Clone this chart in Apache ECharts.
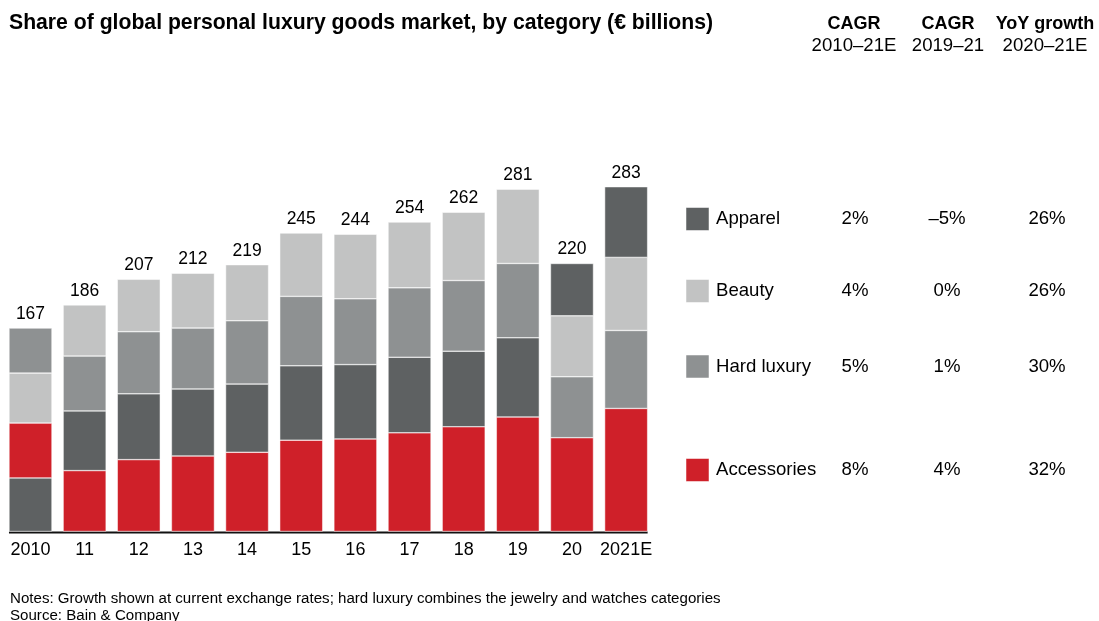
<!DOCTYPE html>
<html>
<head>
<meta charset="utf-8">
<script src="https://cdn.jsdelivr.net/npm/echarts@6/dist/echarts.min.js"></script>
<style>
  html, body { margin: 0; padding: 0; background: #ffffff; }
  #chart { width: 1099px; height: 621px; }
</style>
</head>
<body>
<div id="chart"></div>
<script>
// Personal luxury goods market by category, € billions
const years = ['2010', '11', '12', '13', '14', '15', '16', '17', '18', '19', '20', '2021E'];
const apparel     = [44, 49, 54, 55, 56, 61, 61, 62, 62, 65, 43, 58];
const beauty      = [41, 42, 43, 45, 46, 52, 53, 54, 56, 61, 50, 60];
const hardLuxury  = [37, 45, 51, 50, 52, 57, 54, 57, 58, 61, 50, 64];
const accessories = [45, 50, 59, 62, 65, 75, 76, 81, 86, 94, 77, 101];

// Bottom-to-top order of the segments in each year's bar
const orderEarly = ['Apparel', 'Accessories', 'Beauty', 'Hard luxury'];
const orderMid   = ['Accessories', 'Apparel', 'Hard luxury', 'Beauty'];
const orderLate  = ['Accessories', 'Hard luxury', 'Beauty', 'Apparel'];
const stackOrder = [orderEarly, orderMid, orderMid, orderMid, orderMid, orderMid,
                    orderMid, orderMid, orderMid, orderMid, orderLate, orderLate];

// Growth table (rows: Apparel, Beauty, Hard luxury, Accessories)
const tableRows   = ['Apparel', 'Beauty', 'Hard luxury', 'Accessories'];
const cagr2010_21 = ['2%', '4%', '5%', '8%'];
const cagr2019_21 = ['\u20135%', '0%', '1%', '4%'];
const yoy2020_21  = ['26%', '26%', '30%', '32%'];

const values = {
  'Apparel': apparel,
  'Beauty': beauty,
  'Hard luxury': hardLuxury,
  'Accessories': accessories
};
const colors = {
  'Apparel': '#5e6162',
  'Beauty': '#c2c3c3',
  'Hard luxury': '#8e9192',
  'Accessories': '#cf2029'
};

const FONT = '"Liberation Sans", Arial, Helvetica, sans-serif';
const BAR_WIDTH = 43;

function yearTotal(i) {
  return apparel[i] + beauty[i] + hardLuxury[i] + accessories[i];
}

// One stacked series per layer; each data item carries its own category colour
const layers = [0, 1, 2, 3].map(function (layer) {
  return {
    type: 'bar',
    stack: 'market',
    barWidth: BAR_WIDTH,
    data: years.map(function (y, i) {
      const cat = stackOrder[i][layer];
      return {
        value: values[cat][i],
        name: cat,
        itemStyle: { color: colors[cat], borderColor: '#ffffff', borderWidth: 0.5 }
      };
    }),
    label: layer === 3 ? {
      show: true,
      position: 'top',
      distance: 5,
      color: '#000',
      fontFamily: FONT,
      fontSize: 17.5,
      formatter: function (p) { return String(yearTotal(p.dataIndex)); }
    } : { show: false },
    emphasis: { disabled: true }
  };
});

// Right-hand legend and growth table
const rowY = [219, 291, 366.5, 470];
const colX = [855, 947, 1047];
const graphics = [];
tableRows.forEach(function (cat, r) {
  graphics.push({
    type: 'rect',
    shape: { x: 686, y: rowY[r] - 11.5, width: 23, height: 23 },
    style: { fill: colors[cat], stroke: '#ffffff', lineWidth: 0.5 }
  });
  graphics.push({
    type: 'text', x: 716, y: rowY[r],
    style: { text: cat, font: '18.6px ' + FONT, fill: '#000', textAlign: 'left', textVerticalAlign: 'middle' }
  });
  [cagr2010_21, cagr2019_21, yoy2020_21].forEach(function (col, c) {
    graphics.push({
      type: 'text', x: colX[c], y: rowY[r],
      style: { text: col[r], font: '18.6px ' + FONT, fill: '#000', textAlign: 'center', textVerticalAlign: 'middle' }
    });
  });
});

const headers = [['CAGR', '2010\u201321E'], ['CAGR', '2019\u201321'], ['YoY growth', '2020\u201321E']];
const headerX = [854, 948, 1045];
headers.forEach(function (h, c) {
  graphics.push({
    type: 'text', x: headerX[c], y: 24,
    style: { text: h[0], font: 'bold 18px ' + FONT, fill: '#000', textAlign: 'center', textVerticalAlign: 'middle' }
  });
  graphics.push({
    type: 'text', x: headerX[c], y: 45.5,
    style: { text: h[1], font: '18.6px ' + FONT, fill: '#000', textAlign: 'center', textVerticalAlign: 'middle' }
  });
});

// Footnotes
graphics.push({
  type: 'text', x: 10, y: 599,
  style: { text: 'Notes: Growth shown at current exchange rates; hard luxury combines the jewelry and watches categories',
           font: '15.1px ' + FONT, fill: '#000', textAlign: 'left', textVerticalAlign: 'middle' }
});
graphics.push({
  type: 'text', x: 10, y: 616,
  style: { text: 'Source: Bain & Company', font: '15.1px ' + FONT, fill: '#000', textAlign: 'left', textVerticalAlign: 'middle' }
});

const chart = echarts.init(document.getElementById('chart'), null, { renderer: 'canvas' });
chart.setOption({
  animation: false,
  backgroundColor: '#ffffff',
  title: {
    text: 'Share of global personal luxury goods market, by category (\u20ac billions)',
    left: 9,
    top: 12.5,
    padding: 0,
    textStyle: { fontFamily: FONT, fontWeight: 'bold', fontSize: 21.2, color: '#000' }
  },
  grid: { left: 3.4, right: 445.8, top: 166, bottom: 89.5, containLabel: false },
  xAxis: {
    type: 'category',
    data: years,
    axisLine: { show: false },
    axisTick: { show: false },
    axisLabel: { color: '#000', fontFamily: FONT, fontSize: 18, margin: 10, interval: 0 }
  },
  yAxis: {
    type: 'value',
    min: 0,
    max: 300,
    show: false,
    splitLine: { show: false }
  },
  series: layers,
  graphic: graphics
});

// Baseline running from the left edge of the first bar to the right edge of the last
const first = chart.convertToPixel({ xAxisIndex: 0, yAxisIndex: 0 }, [0, 0]);
const last = chart.convertToPixel({ xAxisIndex: 0, yAxisIndex: 0 }, [years.length - 1, 0]);
chart.setOption({
  graphic: graphics.concat([{
    type: 'line',
    shape: { x1: first[0] - BAR_WIDTH / 2, y1: first[1] + 1, x2: last[0] + BAR_WIDTH / 2, y2: last[1] + 1 },
    style: { stroke: '#111', lineWidth: 2 }
  }])
});
</script>
</body>
</html>
